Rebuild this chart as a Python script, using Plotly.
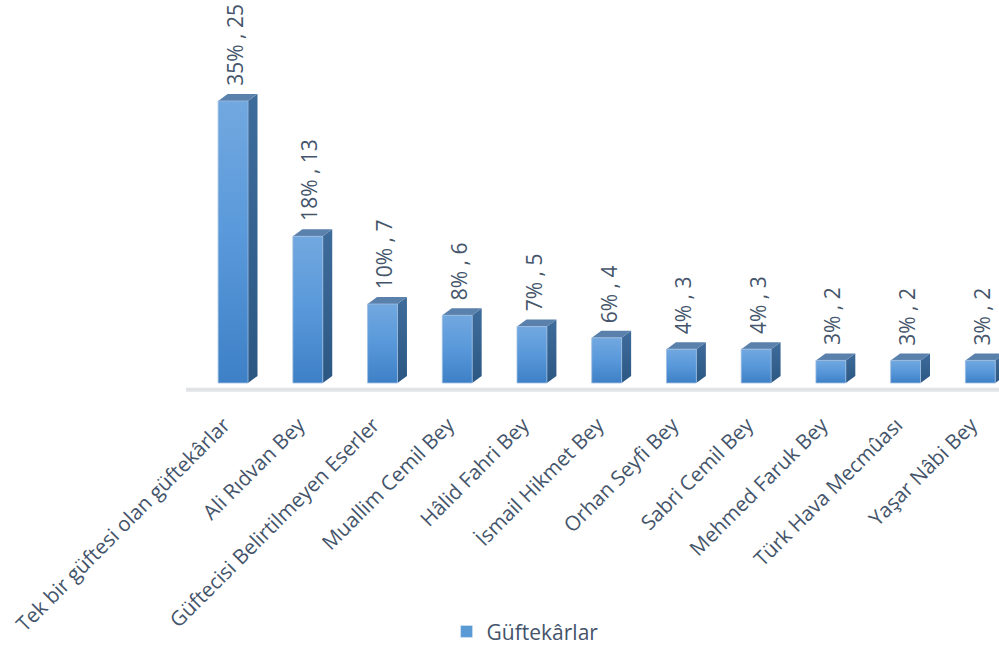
import plotly.graph_objects as go

categories = [
    "Tek bir güftesi olan güftekârlar",
    "Ali Rıdvan Bey",
    "Güftecisi Belirtilmeyen Eserler",
    "Muallim Cemil Bey",
    "Hâlid Fahri Bey",
    "İsmail Hikmet Bey",
    "Orhan Seyfi Bey",
    "Sabri Cemil Bey",
    "Mehmed Faruk Bey",
    "Türk Hava Mecmûası",
    "Yaşar Nâbi Bey",
]
counts = [25, 13, 7, 6, 5, 4, 3, 3, 2, 2, 2]
percents = [35, 18, 10, 8, 7, 6, 4, 4, 3, 3, 3]
series_name = "Güftekârlar"

FONT = "Open Sans, sans-serif"
TEXT_COLOR = "#44546A"
HALF_W = 0.2     # half width of the bar front (category units)
DX = 0.127       # depth offset in x (category units)
DY = 0.62        # depth offset in y (value units)

fig = go.Figure()

for i, v in enumerate(counts):
    x0, x1 = i - HALF_W, i + HALF_W
    # side face
    fig.add_trace(go.Scatter(
        x=[x1, x1 + DX, x1 + DX, x1, x1], y=[0, DY, v + DY, v, 0],
        mode="lines", fill="toself", line=dict(width=0),
        fillgradient=dict(type="vertical",
                          colorscale=[[0, "#2C5783"], [1, "#3E6C9B"]]),
        hoverinfo="skip", showlegend=False))
    # top face
    fig.add_trace(go.Scatter(
        x=[x0, x1, x1 + DX, x0 + DX, x0], y=[v, v, v + DY, v + DY, v],
        mode="lines", fill="toself", line=dict(width=0),
        fillcolor="#5A80AC", hoverinfo="skip", showlegend=False))
    # front face
    fig.add_trace(go.Scatter(
        x=[x0, x1, x1, x0, x0], y=[0, 0, v, v, 0],
        mode="lines", fill="toself", line=dict(width=0.8, color="#9DBCE0"),
        fillgradient=dict(type="vertical",
                          colorscale=[[0, "#3E80C6"], [0.5, "#5898DA"], [1, "#72A8E0"]]),
        hoverinfo="skip", showlegend=False))

# legend entry
fig.add_trace(go.Bar(x=[None], y=[None], name=series_name,
                     marker=dict(color="#5B9BD5"), showlegend=True))

for i, (v, p) in enumerate(zip(counts, percents)):
    fig.add_annotation(x=i + DX / 2, y=v + DY, text=f"{p}% , {v}",
                       textangle=-90, showarrow=False, xanchor="center",
                       yanchor="bottom", yshift=6, xshift=-3,
                       font=dict(family=FONT, size=21, color=TEXT_COLOR))

fig.add_shape(type="line", x0=-0.63, x1=10.25, y0=-0.6, y1=-0.6,
              line=dict(color="#E2E3E6", width=4), layer="below")

fig.update_layout(
    width=999, height=648,
    margin=dict(l=186, r=0, t=0, b=256, autoexpand=False),
    paper_bgcolor="white", plot_bgcolor="white",
    font=dict(family=FONT, color=TEXT_COLOR),
    xaxis=dict(range=[-0.63, 10.25], tickvals=list(range(len(categories))),
               ticktext=categories, tickangle=-45, showgrid=False,
               zeroline=False, showline=False, ticks="",
               ticklabelstandoff=16, ticklabelshift=-9,
               tickfont=dict(family=FONT, size=20.5, color=TEXT_COLOR),
               automargin=False),
    yaxis=dict(range=[-0.8, 33.95], visible=False, showgrid=False, zeroline=False),
    legend=dict(orientation="h", xref="container", yref="container",
                x=0.447, y=0.025, xanchor="left", yanchor="middle",
                font=dict(family=FONT, size=21, color=TEXT_COLOR)),
    showlegend=True,
)

fig.write_html("out.html", config={"displayModeBar": False},
               post_script="document.body.style.margin='0';document.body.style.overflow='hidden';")
